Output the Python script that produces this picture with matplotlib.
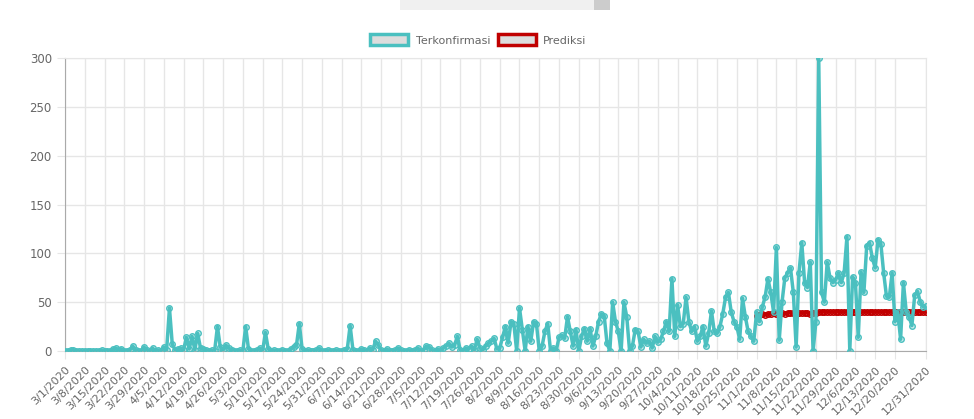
import datetime as dt

import matplotlib
matplotlib.use("Agg")
import matplotlib.pyplot as plt
from matplotlib.patches import Rectangle

# daily confirmed cases, 3/1/2020 .. 12/31/2020
mar = [0, 0, 1, 1, 0, 0, 0, 0, 0, 0, 0, 0, 0, 1, 0, 0, 0, 2, 3, 1, 2, 0, 0, 1, 5, 1, 0, 0, 4, 1, 0]
apr = [3, 0, 1, 0, 4, 1, 44, 7, 1, 2, 3, 1, 14, 2, 15, 1, 18, 3, 2, 1, 0, 1, 0, 25, 4, 1, 6, 3, 1, 0]
may = [0, 1, 0, 25, 2, 0, 0, 1, 3, 0, 19, 2, 0, 1, 0, 0, 1, 0, 0, 2, 4, 6, 28, 2, 0, 1, 0, 0, 1, 3, 0]
jun = [0, 1, 0, 0, 1, 0, 0, 1, 2, 26, 1, 0, 0, 2, 1, 0, 3, 1, 10, 6, 1, 0, 2, 0, 0, 1, 3, 1, 0, 0]
jul = [1, 0, 1, 3, 0, 1, 5, 4, 1, 0, 2, 0, 3, 5, 8, 4, 6, 15, 1, 0, 3, 2, 5, 1, 12, 3, 1, 5, 8, 10, 13]
aug = [2, 3, 14, 25, 8, 30, 28, 0, 44, 22, 0, 25, 10, 30, 28, 0, 5, 20, 28, 0, 3, 0, 14, 16, 13, 35, 20, 5, 22, 0, 15]
sep = [23, 10, 23, 5, 15, 30, 38, 36, 8, 0, 50, 30, 20, 0, 50, 35, 0, 5, 22, 20, 4, 12, 8, 10, 3, 15, 9, 12, 20, 30]
oct_ = [20, 74, 15, 47, 25, 28, 55, 30, 20, 25, 10, 15, 25, 5, 18, 41, 20, 18, 25, 38, 55, 60, 40, 30, 25, 12, 54, 35, 20, 15, 10]
nov = [40, 30, 45, 55, 74, 60, 40, 106, 11, 50, 75, 80, 85, 60, 4, 80, 111, 70, 65, 91, 0, 30, 300, 60, 50, 91, 75, 70, 73, 80]
dec = [70, 80, 117, 0, 76, 70, 14, 81, 60, 108, 111, 95, 85, 114, 110, 80, 56, 55, 80, 30, 40, 12, 70, 40, 35, 26, 57, 61, 50, 45, 46]
confirmed = mar + apr + may + jun + jul + aug + sep + oct_ + nov + dec

# prediction, 11/1/2020 .. 12/31/2020
pred_start = "11/1/2020"
prediction = [36, 37, 38, 37, 38, 38, 39, 38, 39, 39, 38, 39, 39, 39, 38, 39, 39, 39, 39, 38,
              39, 39, 40, 40, 40, 40, 40, 40, 40, 40, 40, 40, 40, 40, 40, 40, 40, 40, 40, 40,
              40, 40, 40, 40, 40, 40, 40, 40, 40, 40, 40, 40, 40, 40, 40, 40, 40, 40, 40, 40, 40]

start = dt.date(2020, 3, 1)
dates = [start + dt.timedelta(days=i) for i in range(len(confirmed))]
labels = [f"{d.month}/{d.day}/{d.year}" for d in dates]
xs = list(range(len(confirmed)))
p0 = labels.index(pred_start)
px = list(range(p0, p0 + len(prediction)))

teal = "#4bc0c0"
red = "#c00000"

fig = plt.figure(figsize=(9.74, 4.19), dpi=100)
ax = fig.add_axes([65 / 974, 1 - 351 / 419, (926 - 65) / 974, (351 - 58) / 419])

ax.plot(px, prediction, color=red, lw=2.5, marker="o", ms=4, mfc=(0.8, 0, 0, 0.3),
        mec=red, mew=1, zorder=3)
ax.plot(xs, confirmed, color=teal, lw=2.5, marker="o", ms=4, mfc=(0.29, 0.75, 0.75, 0.3),
        mec=teal, mew=1, zorder=4)

ax.set_xlim(0, len(confirmed) - 1)
ax.set_ylim(0, 300)
ax.set_yticks(range(0, 301, 50))
ticks = list(range(0, len(confirmed) - 8, 7)) + [len(confirmed) - 1]
ax.set_xticks(ticks)
ax.set_xticklabels([labels[i] for i in ticks], rotation=45, ha="right",
                   rotation_mode="anchor", fontsize=8, color="#666666")
ax.tick_params(axis="y", labelsize=8.5, labelcolor="#666666", length=6, color="#e6e6e6")
ax.tick_params(axis="x", length=6, color="#e6e6e6")
ax.grid(True, color="#e6e6e6", lw=1)
ax.set_axisbelow(True)
for s in ax.spines.values():
    s.set_color("#e6e6e6")
ax.spines["left"].set_color("#aaaaaa")
ax.spines["bottom"].set_color("#aaaaaa")

# legend
fig.patches.append(Rectangle((370, 374), 38, 11, transform=None, fc="#dddddd", ec=teal, lw=2.5))
fig.text(416 / 974, 1 - 41 / 419, "Terkonfirmasi", fontsize=8, color="#666666", va="center")
fig.patches.append(Rectangle((498, 374), 38, 11, transform=None, fc="#dddddd", ec=red, lw=2.5))
fig.text(543 / 974, 1 - 41 / 419, "Prediksi", fontsize=8, color="#666666", va="center")

# scrollbar remnant at top
fig.patches.append(Rectangle((400, 409), 210, 10, transform=None, fc="#f0f0f0", ec="none"))
fig.patches.append(Rectangle((594, 409), 16, 10, transform=None, fc="#cccccc", ec="none"))

fig.savefig("out.png", dpi=100)
